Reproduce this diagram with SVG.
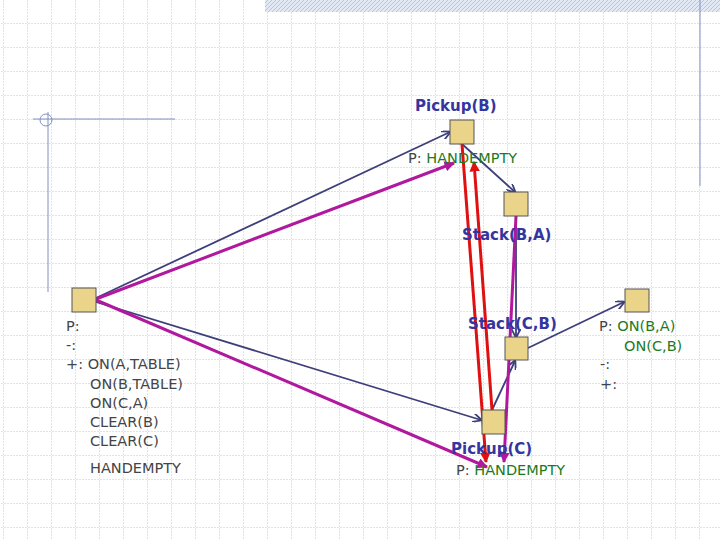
<svg xmlns="http://www.w3.org/2000/svg" width="720" height="540" viewBox="0 0 720 540">
<defs>
<pattern id="grid" width="24" height="24" patternUnits="userSpaceOnUse" x="4" y="0">
<path d="M24 0V24M0 24H24" fill="none" stroke="#c4c4c4" stroke-width="1" stroke-dasharray="2 1"/>
</pattern>
<pattern id="hatch" width="4" height="4" patternUnits="userSpaceOnUse">
<rect width="4" height="4" fill="#e2e8f4"/><path d="M0 4L4 0" stroke="#b8c4de" stroke-width="1"/>
</pattern>
<marker id="ab" viewBox="0 0 10 10" refX="9" refY="5" markerWidth="5" markerHeight="5" orient="auto"><path d="M0 0L10 5L0 10" fill="none" stroke="#3d3f7a" stroke-width="2"/></marker>
<marker id="am" viewBox="0 0 10 10" refX="9" refY="5" markerWidth="3.5" markerHeight="3.5" orient="auto"><path d="M0 0L10 5L0 10z" fill="#b0189e"/></marker>
<marker id="ar" viewBox="0 0 10 10" refX="9" refY="5" markerWidth="3.5" markerHeight="3.5" orient="auto"><path d="M0 0L10 5L0 10z" fill="#e01010"/></marker>
</defs>
<style>
.node rect{fill:#ead48a;stroke:#555;stroke-width:1}
.lbl{font-family:"DejaVu Sans",sans-serif;font-size:15px;font-weight:bold;fill:#3535a0}
.t{font-family:"DejaVu Sans",sans-serif;font-size:14.5px;fill:#444}
.g{fill:#1d7a1d}
.b{stroke:#3d3f7a;stroke-width:1.8;fill:none;marker-end:url(#ab)}
.m{stroke:#b0189e;stroke-width:3;fill:none;marker-end:url(#am)}
.r{stroke:#e01010;stroke-width:3;fill:none;marker-end:url(#ar)}
</style>
<rect width="720" height="540" fill="#fff"/>
<rect width="720" height="540" fill="url(#grid)"/>
<rect x="265" y="0" width="455" height="12" fill="url(#hatch)"/>
<line x1="700" y1="0" x2="700" y2="186" stroke="#8090c0"/>
<line x1="48" y1="112" x2="48" y2="292" stroke="#8090c0"/>
<line x1="33" y1="119" x2="175" y2="119" stroke="#8090c0"/>
<circle cx="46" cy="120" r="6" fill="none" stroke="#8090c0"/>
<g id="connectors">
<line class="b" x1="96" y1="298" x2="450" y2="132"/>
<line class="b" x1="96" y1="302" x2="481" y2="420"/>
<line class="b" x1="462" y1="144" x2="515" y2="192"/>
<line class="b" x1="516" y1="216" x2="516" y2="337"/>
<line class="b" x1="492" y1="410" x2="515" y2="361"/>
<line class="b" x1="528" y1="348" x2="624" y2="302"/>
<line class="m" x1="96" y1="299" x2="454" y2="163"/>
<line class="m" x1="96" y1="300" x2="487" y2="467"/>
<line class="m" x1="516" y1="216" x2="504" y2="462"/>
<line class="r" x1="462" y1="144" x2="486" y2="462"/>
<line class="r" x1="492" y1="410" x2="474" y2="162"/>
</g>
<g id="start" class="node"><rect x="72" y="288" width="24" height="24"/>
<text class="t" x="66" y="331">P:</text><text class="t" x="66" y="350">-:</text>
<text class="t" x="66" y="369">+: ON(A,TABLE)</text>
<text class="t" x="90" y="389">ON(B,TABLE)</text><text class="t" x="90" y="408">ON(C,A)</text>
<text class="t" x="90" y="427">CLEAR(B)</text><text class="t" x="90" y="446">CLEAR(C)</text>
<text class="t" x="90" y="473">HANDEMPTY</text></g>
<g id="pickupB" class="node"><rect x="450" y="120" width="24" height="24"/>
<text class="lbl" x="415" y="111">Pickup(B)</text>
<text class="t" x="408" y="163">P: <tspan class="g">HANDEMPTY</tspan></text></g>
<g id="stackBA" class="node"><rect x="504" y="192" width="24" height="24"/>
<text class="lbl" x="462" y="240">Stack(B,A)</text></g>
<g id="stackCB" class="node"><rect x="505" y="337" width="23" height="23"/>
<text class="lbl" x="468" y="329">Stack(C,B)</text></g>
<g id="pickupC" class="node"><rect x="482" y="410" width="23" height="24"/>
<text class="lbl" x="451" y="454">Pickup(C)</text>
<text class="t" x="456" y="475">P: <tspan class="g">HANDEMPTY</tspan></text></g>
<g id="finish" class="node"><rect x="625" y="289" width="24" height="23"/>
<text class="t" x="599" y="331">P: <tspan class="g">ON(B,A)</tspan></text>
<text class="t g" x="624" y="351">ON(C,B)</text>
<text class="t" x="600" y="369">-:</text><text class="t" x="600" y="389">+:</text></g>
</svg>
